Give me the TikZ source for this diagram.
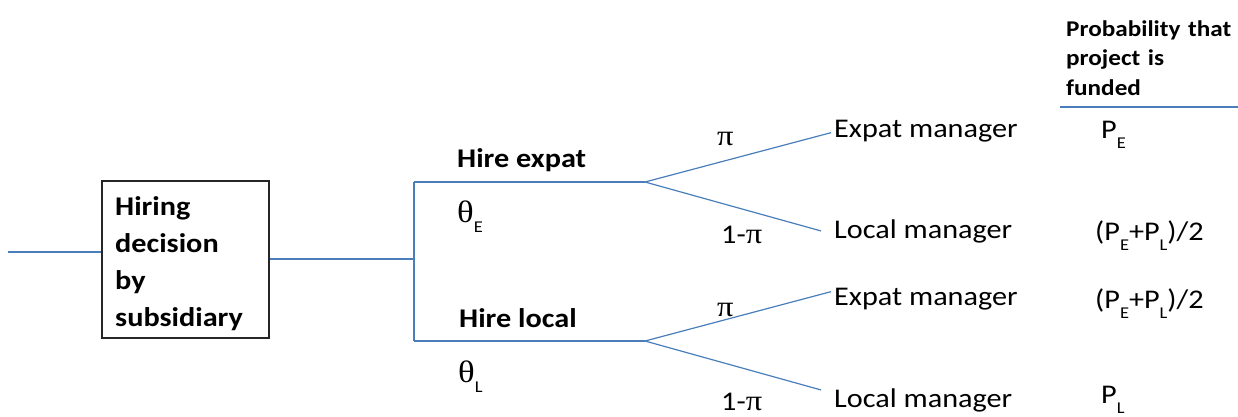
\documentclass[tikz,border=0pt]{standalone}
\usepackage{fontspec}
\setmainfont{Carlito}[FakeStretch=1.12]
\newfontfamily\gk{Liberation Serif}[FakeStretch=1.12]
\definecolor{branchc}{HTML}{4A7EBB}
\newcommand{\lowsub}[1]{\raisebox{-10pt}{\fontsize{16.5}{16.5}\selectfont #1}}
\newcommand{\gpi}{{\gk\fontsize{29}{29}\selectfont π}}
\newcommand{\gth}{{\gk\fontsize{31}{31}\selectfont θ}}
\begin{document}
\begin{tikzpicture}[x=1pt,y=-1pt,
  branch/.style={draw=branchc, line width=1.2pt},
  lbl/.style={anchor=base west, inner sep=0pt, font=\fontsize{27}{32}\selectfont},
  blbl/.style={lbl, font=\bfseries\fontsize{27}{32}\selectfont},
  leaf/.style={lbl, inner xsep=3pt},
  decbox/.style={draw=black!85, line width=1.2pt, minimum width=167pt, minimum height=157pt, inner sep=0pt},
  boxtxt/.style={anchor=base west, inner sep=0pt, text width=141pt, align=left, font=\bfseries\fontsize{27}{37}\selectfont},
  headtxt/.style={anchor=base west, inner sep=0pt, text width=172pt, align=left, font=\bfseries\fontsize{22.5}{29.5}\selectfont}]
\useasboundingbox (0,0) rectangle (1238,416);
% coordinates
\coordinate (start) at (8,252);
\coordinate (fork) at (414,259);
\coordinate (eTop) at (414,182);
\coordinate (lTop) at (414,341);
\coordinate (eSplit) at (645,182);
\coordinate (lSplit) at (645,341);
\coordinate (r1) at (1060,107);
\coordinate (r2) at (1238,107);
% decision box
\node[decbox] (box) at (185.5,259.5) {};
\node[boxtxt] (boxtext) at (115,215) {Hiring\\decision\\by\\subsidiary};
% branch labels
\node[blbl] (hexp) at (457,167) {Hire expat};
\node[lbl] (thE) at (457,222) {\gth\lowsub{E}};
\node[blbl] (hloc) at (459,327) {Hire local};
\node[lbl] (thL) at (458,382) {\gth\lowsub{L}};
\node[lbl] (piE) at (717,145) {\gpi};
\node[lbl] (ompiE) at (721,243) {1-\gpi};
\node[lbl] (piL) at (717,316) {\gpi};
\node[lbl] (ompiL) at (721,410) {1-\gpi};
% leaves
\node[leaf] (em1) at (831,137) {Expat manager};
\node[leaf] (lm1) at (831,238) {Local manager};
\node[leaf] (em2) at (831,305) {Expat manager};
\node[leaf] (lm2) at (831,407) {Local manager};
% header and probabilities
\node[headtxt] (head) at (1066,36) {Probability that\\project is\\funded};
\node[lbl] (pE) at (1101,138) {P\lowsub{E}};
\node[lbl] (pm1) at (1095,240) {(P\lowsub{E}+P\lowsub{L})/2};
\node[lbl] (pm2) at (1095,308) {(P\lowsub{E}+P\lowsub{L})/2};
\node[lbl] (pL) at (1101,403) {P\lowsub{L}};
% connectors
\draw[branch] (start) -- (start -| box.west);
\draw[branch] (box.east |- fork) -- (fork);
\draw[branch] (eTop) -- (lTop);
\draw[branch] (eTop) -- (eSplit);
\draw[branch] (lTop) -- (lSplit);
\draw[branch] (eSplit) -- ([yshift=-2pt]em1.west);
\draw[branch] (eSplit) -- ([xshift=-10pt]lm1.west);
\draw[branch] (lSplit) -- ([yshift=7pt]em2.west);
\draw[branch] (lSplit) -- ([xshift=-10pt,yshift=10pt]lm2.west);
\draw[branch] (r1) -- (r2);
\end{tikzpicture}
\end{document}
